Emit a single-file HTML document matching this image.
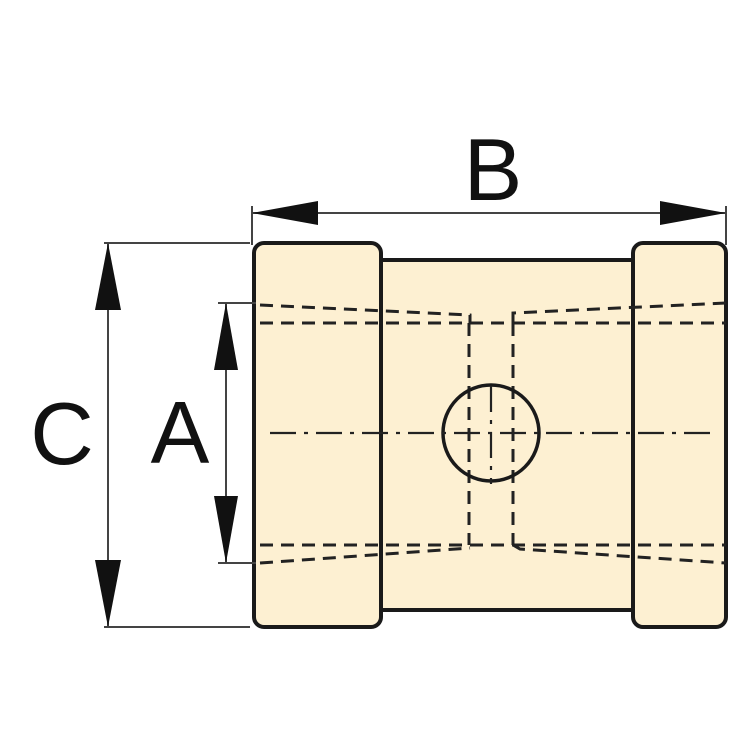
<!DOCTYPE html>
<html><head><style>html,body{margin:0;padding:0;background:#fff}svg{display:block}</style></head>
<body>
<svg width="750" height="750" viewBox="0 0 750 750" xmlns="http://www.w3.org/2000/svg">
<g font-family="Liberation Sans, sans-serif" font-size="88" fill="#111">
<text x="493" y="200" text-anchor="middle">B</text>
<text x="62" y="464" text-anchor="middle">C</text>
<text x="180" y="463" text-anchor="middle">A</text>
</g>
<!-- body -->
<rect x="380" y="260" width="255" height="350" fill="#fdf0d2" stroke="#1a1a1a" stroke-width="4"/>
<rect x="254" y="243" width="127" height="384" rx="10" fill="#fdf0d2" stroke="#1a1a1a" stroke-width="4"/>
<rect x="633" y="243" width="93" height="384" rx="10" fill="#fdf0d2" stroke="#1a1a1a" stroke-width="4"/>
<!-- hidden lines -->
<g stroke="#222" stroke-width="3" fill="none" stroke-dasharray="13,8">
<path d="M260 305 L470 315 L470 323"/>
<path d="M260 323 H726"/>
<path d="M513 323 L513 313 L726 303"/>
<path d="M469 323 V545"/>
<path d="M513 323 V545"/>
<path d="M260 545 H726"/>
<path d="M260 563 L470 548"/>
<path d="M513 545 L520 549 L726 563"/>
</g>
<circle cx="491" cy="433" r="48" fill="none" stroke="#1a1a1a" stroke-width="3.5"/>
<g stroke="#222" stroke-width="2.2" fill="none" stroke-dasharray="26,8,4,8">
<path d="M270 433 H716"/>
<path d="M491 386 V484"/>
</g>
<!-- dimensions -->
<g stroke="#444" stroke-width="2" fill="none">
<path d="M104 243 H250"/>
<path d="M104 627 H250"/>
<path d="M108 243 V627"/>
<path d="M218 303 H256"/>
<path d="M218 563 H256"/>
<path d="M226 303 V563"/>
<path d="M252 206 V245"/>
<path d="M252 213 H726"/>
<path d="M726 206 V245"/>
</g>
<g fill="#111">
<polygon points="108,243 95,310 121,310"/>
<polygon points="108,627 95,560 121,560"/>
<polygon points="226,303 214,370 238,370"/>
<polygon points="226,563 214,496 238,496"/>
<polygon points="252,213 318,201 318,225"/>
<polygon points="726,213 660,201 660,225"/>
</g>
</svg>
</body></html>
